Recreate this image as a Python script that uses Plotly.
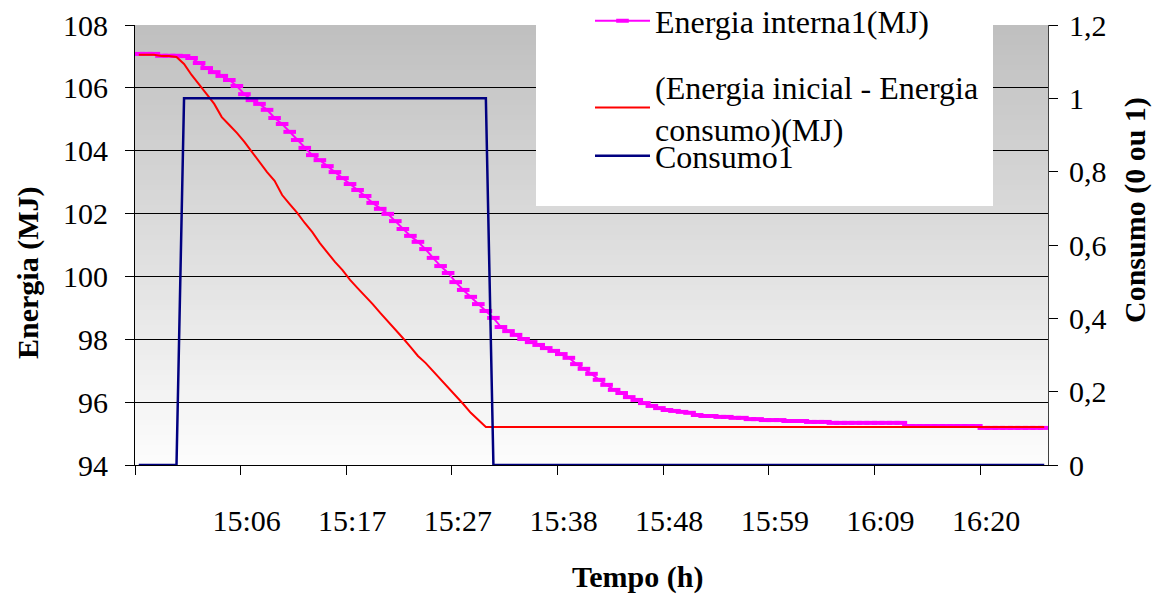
import plotly.graph_objects as go

# ---- Data (45 s samples) ----
energia_interna = [
    107.08, 107.08, 107.08, 107.02, 107.02, 107.02, 107.01, 106.95, 106.79, 106.63,
    106.50, 106.38, 106.25, 106.06, 105.80, 105.61, 105.49, 105.30, 105.04, 104.85,
    104.60, 104.34, 104.09, 103.86, 103.70, 103.51, 103.32, 103.13, 102.94, 102.75,
    102.56, 102.34, 102.15, 101.99, 101.76, 101.51, 101.29, 101.10, 100.87, 100.59,
    100.33, 100.11, 99.82, 99.57, 99.35, 99.12, 98.90, 98.68, 98.39, 98.26,
    98.14, 98.01, 97.91, 97.82, 97.72, 97.63, 97.53, 97.41, 97.21, 97.06,
    96.90, 96.71, 96.55, 96.39, 96.29, 96.16, 96.07, 95.97, 95.88, 95.81,
    95.75, 95.72, 95.69, 95.66, 95.59, 95.56, 95.56, 95.53, 95.53, 95.50,
    95.50, 95.46, 95.46, 95.43, 95.43, 95.43, 95.40, 95.40, 95.40, 95.37,
    95.37, 95.37, 95.34, 95.34, 95.34, 95.34, 95.34, 95.34, 95.34, 95.34,
    95.34, 95.34, 95.24, 95.24, 95.24, 95.24, 95.24, 95.24, 95.24, 95.24,
    95.24, 95.24, 95.18, 95.18, 95.18, 95.18, 95.18, 95.18, 95.18, 95.18,
    95.18,
]
energia_inicial_menos_consumo = [
    107.05, 107.05, 107.05, 107.01, 107.01, 106.98, 106.76, 106.41, 106.12, 105.80,
    105.49, 105.07, 104.82, 104.57, 104.28, 103.96, 103.64, 103.32, 103.04, 102.59,
    102.30, 102.02, 101.70, 101.41, 101.06, 100.75, 100.46, 100.20, 99.89, 99.63,
    99.38, 99.12, 98.84, 98.58, 98.30, 98.04, 97.76, 97.47, 97.25, 96.99,
    96.74, 96.45, 96.20, 95.94, 95.66, 95.43, 95.21, 95.21, 95.21, 95.21,
    95.21, 95.21, 95.21, 95.21, 95.21, 95.21, 95.21, 95.21, 95.21, 95.21,
    95.21, 95.21, 95.21, 95.21, 95.21, 95.21, 95.21, 95.21, 95.21, 95.21,
    95.21, 95.21, 95.21, 95.21, 95.21, 95.21, 95.21, 95.21, 95.21, 95.21,
    95.21, 95.21, 95.21, 95.21, 95.21, 95.21, 95.21, 95.21, 95.21, 95.21,
    95.21, 95.21, 95.21, 95.21, 95.21, 95.21, 95.21, 95.21, 95.21, 95.21,
    95.21, 95.21, 95.21, 95.21, 95.21, 95.21, 95.21, 95.21, 95.21, 95.21,
    95.21, 95.21, 95.21, 95.21, 95.21, 95.21, 95.21, 95.21, 95.21, 95.21,
    95.21,
]
consumo = [0] * 6 + [1] * 41 + [0] * 74

sample_index = list(range(len(energia_interna)))

# category axis: a tick every 14 samples, labels as in the picture
tick_positions = [-0.5, 13.5, 27.5, 41.5, 55.5, 69.5, 83.5, 97.5, 111.5]
tick_labels = ["", "15:06", "15:17", "15:27", "15:38", "15:48", "15:59", "16:09", "16:20"]

y2_vals = [0, 0.2, 0.4, 0.6, 0.8, 1.0, 1.2]
y2_text = ["0", "0,2", "0,4", "0,6", "0,8", "1", "1,2"]

FONT = "Liberation Serif"
FS_TICK = 30
FS_LEG = 32
FS_TITLE = 30

# ---- geometry (page pixels; the page body has an 8px margin) ----
OFF = 8
W, H = 1162 - OFF, 595 - OFF
L, R, T, B = 135 - OFF, 1048 - OFF, 25 - OFF, 465 - OFF
PW = R - L
PAPER_H = B  # paper spans from the top of the figure down to the x axis


def px_x(px):  # page px -> paper x
    return (px - OFF - L) / PW


def px_y(py):  # page px -> paper y
    return (B - (py - OFF)) / PAPER_H


fig = go.Figure()
fig.add_trace(go.Scatter(
    x=sample_index, y=energia_interna, name="Energia interna1(MJ)",
    mode="lines+markers", line=dict(color="#FF00FF", width=2),
    marker=dict(symbol="line-ew", size=9, line=dict(color="#FF00FF", width=4)),
    legend="legend",
))
fig.add_trace(go.Scatter(
    x=sample_index, y=energia_inicial_menos_consumo,
    name="(Energia inicial - Energia<br>consumo)(MJ)",
    mode="lines", line=dict(color="#FF0000", width=2),
    legend="legend2",
))
fig.add_trace(go.Scatter(
    x=sample_index, y=consumo, name="Consumo1", yaxis="y2",
    mode="lines", line=dict(color="#000080", width=2.5),
    legend="legend3",
))

# gradient plot background (grey at top -> white at bottom)
shapes = []
n = 88
for i in range(n):
    f = (i + 0.5) / n  # 0 bottom -> 1 top
    c = int(round(253 - f * (253 - 191)))
    shapes.append(dict(type="rect", xref="x domain", yref="y domain",
                       x0=0, x1=1, y0=i / n, y1=(i + 1) / n,
                       fillcolor=f"rgb({c},{c},{c})", line=dict(width=0),
                       layer="below"))
# white legend box
shapes.append(dict(type="rect", xref="paper", yref="paper",
                   x0=px_x(536), x1=px_x(993), y0=px_y(206), y1=1,
                   fillcolor="white", line=dict(width=0), layer="above"))

leg_common = dict(bgcolor="rgba(0,0,0,0)", borderwidth=0,
                  font=dict(family=FONT, size=FS_LEG, color="black"),
                  xanchor="left", yanchor="middle", itemwidth=55)

y_domain = [0, (B - T) / PAPER_H]

fig.update_layout(
    width=W, height=H,
    margin=dict(l=L, r=W - R, t=0, b=H - B, autoexpand=False),
    paper_bgcolor="white", plot_bgcolor="white",
    font=dict(family=FONT, size=FS_TICK, color="black"),
    shapes=shapes,
    showlegend=True,
    legend=dict(x=px_x(590), y=px_y(21), **leg_common),
    legend2=dict(x=px_x(590), y=px_y(108), **leg_common),
    legend3=dict(x=px_x(590), y=px_y(156), **leg_common),
    xaxis=dict(range=[-0.5, len(sample_index) - 0.5], tickmode="array",
               tickvals=tick_positions, ticktext=tick_labels,
               ticks="outside", ticklen=9, tickcolor="black",
               showline=True, linecolor="black", linewidth=1,
               showgrid=False, zeroline=False,
               ticklabelshift=6, ticklabelstandoff=20,
               tickfont=dict(family=FONT, size=FS_TICK, color="black")),
    yaxis=dict(domain=y_domain, range=[94, 108], dtick=2, tick0=94,
               ticks="outside", ticklen=9, tickcolor="black",
               showline=True, linecolor="black", linewidth=1,
               showgrid=True, gridcolor="black", gridwidth=1,
               zeroline=False, ticklabelstandoff=11,
               tickfont=dict(family=FONT, size=FS_TICK, color="black")),
    yaxis2=dict(domain=y_domain, range=[0, 1.2], overlaying="y", side="right",
                tickmode="array", tickvals=y2_vals, ticktext=y2_text,
                ticks="outside", ticklen=9, tickcolor="black",
                showline=True, linecolor="#404040", linewidth=1,
                showgrid=False, zeroline=False, ticklabelstandoff=5,
                tickfont=dict(family=FONT, size=FS_TICK, color="black")),
    annotations=[
        dict(text="<b>Tempo (h)</b>", xref="paper", yref="paper",
             x=px_x(637), y=px_y(577), showarrow=False,
             xanchor="center", yanchor="middle",
             font=dict(family=FONT, size=FS_TITLE, color="black")),
        dict(text="<b>Energia (MJ)</b>", xref="paper", yref="paper",
             x=px_x(28), y=px_y(273), showarrow=False, textangle=-90,
             xanchor="center", yanchor="middle",
             font=dict(family=FONT, size=FS_TITLE, color="black")),
        dict(text="<b>Consumo (0 ou 1)</b>", xref="paper", yref="paper",
             x=px_x(1135), y=px_y(210), showarrow=False, textangle=-90,
             xanchor="center", yanchor="middle",
             font=dict(family=FONT, size=FS_TITLE, color="black")),
    ],
)

fig.write_html("out.html")
